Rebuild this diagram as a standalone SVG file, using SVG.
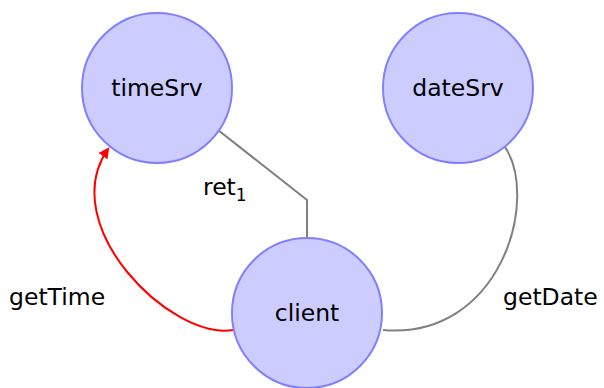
<svg xmlns="http://www.w3.org/2000/svg" width="604" height="388" viewBox="0 0 604 388">
  <style>
    .node circle { fill: #ccccff; stroke: #8080ff; stroke-width: 2; }
    .node text, .label { font-family: "DejaVu Sans", "Liberation Sans", sans-serif; font-size: 23.5px; fill: #000; }
    .node text { text-anchor: middle; dominant-baseline: central; }
    .edge { fill: none; stroke: #808080; stroke-width: 2; }
    .call { fill: none; stroke: #ff0000; stroke-width: 2; }
  </style>
  <defs>
    <marker id="arrow" viewBox="0 0 10 10" refX="8" refY="5" markerWidth="5.5" markerHeight="5.5" orient="auto" markerUnits="strokeWidth">
      <path d="M0,0 L10,5 L0,10 Z" fill="#ff0000"/>
    </marker>
  </defs>
  <rect width="604" height="388" fill="#ffffff"/>
  <g id="connectors">
    <path class="edge" d="M218,130 L307,200 L307,238"/>
    <path class="edge" d="M505,147 C540,200 500,340 383,330"/>
    <path class="call" d="M233,330 C170,340 55,225 108,149" marker-end="url(#arrow)"/>
    <text class="label" x="203" y="195">ret<tspan font-size="17" dy="6">1</tspan></text>
    <text class="label" x="9" y="305">getTime</text>
    <text class="label" x="503" y="305">getDate</text>
  </g>
  <g id="timeSrv" class="node">
    <circle cx="157" cy="88" r="75"/>
    <text x="157" y="88">timeSrv</text>
  </g>
  <g id="dateSrv" class="node">
    <circle cx="458" cy="88" r="75"/>
    <text x="458" y="88">dateSrv</text>
  </g>
  <g id="client" class="node">
    <circle cx="307" cy="313" r="75"/>
    <text x="307" y="313">client</text>
  </g>
</svg>
